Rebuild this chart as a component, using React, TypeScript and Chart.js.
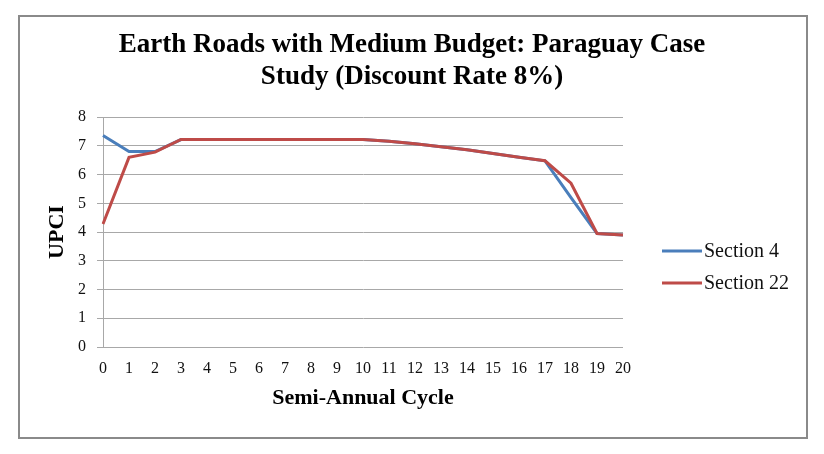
import { useEffect, useRef } from "react";
import { Chart, ChartConfiguration, Plugin, registerables } from "chart.js";

Chart.register(...registerables);

const titleLines = ["Earth Roads with Medium Budget: Paraguay Case", "Study (Discount Rate 8%)"];
const cycles = ["0", "1", "2", "3", "4", "5", "6", "7", "8", "9", "10", "11", "12", "13", "14", "15", "16", "17", "18", "19", "20"];
const section4 = [7.36, 6.8, 6.8, 7.22, 7.22, 7.22, 7.22, 7.22, 7.22, 7.22, 7.22, 7.16, 7.07, 6.97, 6.86, 6.73, 6.6, 6.48, 5.2, 3.95, 3.9];
const section22 = [4.28, 6.6, 6.78, 7.22, 7.22, 7.22, 7.22, 7.22, 7.22, 7.22, 7.22, 7.16, 7.07, 6.97, 6.86, 6.73, 6.6, 6.48, 5.7, 3.95, 3.9];
const yTicks = [0, 1, 2, 3, 4, 5, 6, 7, 8];

const SERIF = '"Liberation Serif", "Times New Roman", serif';
const GRID = "#a8a8a8";

// legend drawn to the right of the plot, Excel style (line sample + label)
const sideLegend: Plugin = {
  id: "sideLegend",
  afterDraw(chart) {
    const { ctx, chartArea } = chart;
    ctx.save();
    chart.data.datasets.forEach((ds: any, i) => {
      const x = chartArea.right + 39;
      const y = chartArea.top + 134 + i * 32;
      ctx.strokeStyle = ds.borderColor;
      ctx.lineWidth = 3;
      ctx.beginPath();
      ctx.moveTo(x, y);
      ctx.lineTo(x + 40, y);
      ctx.stroke();
      ctx.fillStyle = "#111";
      ctx.font = `20px ${SERIF}`;
      ctx.textAlign = "left";
      ctx.textBaseline = "middle";
      ctx.fillText(ds.label, x + 42, y + 1);
    });
    ctx.restore();
  },
};

export default function App() {
  const chartRef = useRef<HTMLCanvasElement>(null);
  const chartInstance = useRef<Chart | null>(null);

  useEffect(() => {
    if (!chartRef.current) return;
    if (chartInstance.current) chartInstance.current.destroy();
    const ctx = chartRef.current.getContext("2d");
    if (!ctx) return;

    const config: ChartConfiguration = {
      type: "line",
      data: {
        labels: cycles,
        datasets: [
          {
            label: "Section 4",
            data: section4,
            borderColor: "#4a7ebb",
            backgroundColor: "#4a7ebb",
            borderWidth: 3,
            pointRadius: 0,
            tension: 0,
            order: 1,
          },
          {
            label: "Section 22",
            data: section22,
            borderColor: "#be4b48",
            backgroundColor: "#be4b48",
            borderWidth: 3,
            pointRadius: 0,
            tension: 0,
            order: 0,
          },
        ],
      },
      options: {
        responsive: false,
        animation: false,
        devicePixelRatio: 1,
        layout: { padding: { left: 44, right: 44, top: 0, bottom: 42 } },
        plugins: {
          legend: { display: false },
          tooltip: { enabled: false },
          title: {
            display: true,
            text: titleLines,
            color: "#000",
            font: { family: SERIF, size: 27, weight: "bold", lineHeight: 1.15 },
            padding: { top: 30, bottom: 25 },
          },
        },
        scales: {
          x: {
            grid: { display: false, drawTicks: false },
            border: { display: false },
            ticks: {
              color: "#111",
              font: { family: SERIF, size: 16 },
              padding: 12,
              autoSkip: false,
              maxRotation: 0,
            },
            title: {
              display: true,
              text: "Semi-Annual Cycle",
              color: "#000",
              font: { family: SERIF, size: 22, weight: "bold" },
              padding: 0,
            },
            afterFit: (s: any) => {
              s.height = 65;
            },
          },
          y: {
            min: 0,
            max: 8,
            afterBuildTicks: (s: any) => {
              s.ticks = yTicks.map((v) => ({ value: v }));
            },
            grid: { color: GRID, lineWidth: 1, tickLength: 6, tickColor: GRID },
            border: { display: true, color: GRID, width: 1 },
            ticks: { color: "#111", font: { family: SERIF, size: 16 }, padding: 11 },
            title: {
              display: true,
              text: "UPCI",
              color: "#000",
              font: { family: SERIF, size: 22, weight: "bold" },
              padding: 0,
            },
            afterFit: (s: any) => {
              s.width = 59;
            },
          },
          // empty right-hand axis that only keeps room for the legend
          legendRoom: {
            type: "linear",
            position: "right",
            ticks: { display: false },
            grid: { display: false, drawTicks: false },
            border: { display: false },
            afterFit: (s: any) => {
              s.width = 157;
            },
          },
        },
      },
      plugins: [sideLegend],
    };

    chartInstance.current = new Chart(ctx, config);
    return () => {
      if (chartInstance.current) {
        chartInstance.current.destroy();
        chartInstance.current = null;
      }
    };
  }, []);

  return (
    <div style={{ position: "fixed", left: 0, top: 0, width: 824, height: 454, background: "#fff" }}>
      <div
        style={{
          position: "absolute",
          left: 18,
          top: 15,
          width: 790,
          height: 424,
          boxSizing: "border-box",
          border: "2px solid #8a8a8a",
        }}
      />
      <canvas
        ref={chartRef}
        width={824}
        height={454}
        style={{ position: "absolute", left: 0, top: 0, width: 824, height: 454 }}
      />
    </div>
  );
}
